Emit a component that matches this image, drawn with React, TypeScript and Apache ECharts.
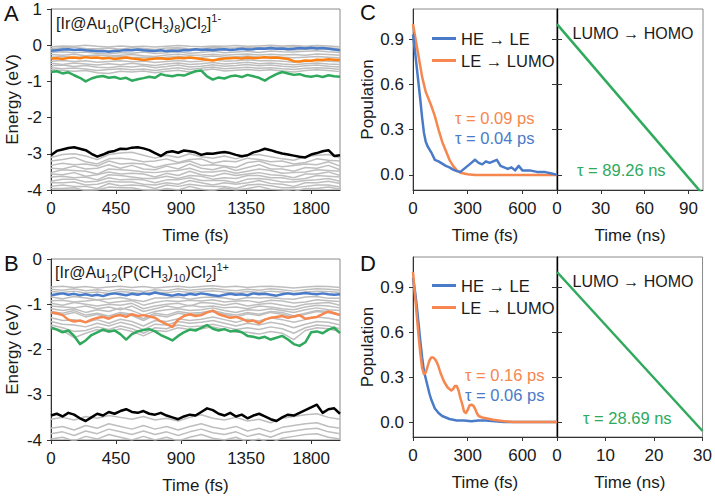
import React, { useEffect, useRef } from 'react';
import * as echarts from 'echarts';

const FONT = 'Liberation Sans';
const TXT = '#1a1a1a';
const BLUE = '#4A7BC8';
const ORANGE_A = '#FF8012';
const ORANGE = '#F5874F';
const GREEN = '#2FA95C';
const GRAY = '#BEBEBE';
const AX_FS = 17;

// ---- time grids (fs) ----
const tFine = [0,40,80,120,160,200,240,280,320,360,400,440,480,520,560,600,640,680,720,760,800,840,880,920,960,1000,1040,1080,1120,1160,1200,1240,1280,1320,1360,1400,1440,1480,1520,1560,1600,1640,1680,1720,1760,1800,1840,1880,1920,1960,2000];
const tCoarse = [0,80,160,240,320,400,480,560,640,720,800,880,960,1040,1120,1200,1280,1360,1440,1520,1600,1680,1760,1840,1920,2000];

// ---- Panel A (eV) ----
const aBlue = [-0.15,-0.14,-0.12,-0.11,-0.13,-0.12,-0.14,-0.15,-0.17,-0.16,-0.18,-0.16,-0.15,-0.13,-0.14,-0.12,-0.14,-0.15,-0.16,-0.14,-0.17,-0.15,-0.16,-0.13,-0.14,-0.11,-0.13,-0.12,-0.14,-0.12,-0.11,-0.13,-0.12,-0.10,-0.12,-0.11,-0.09,-0.10,-0.08,-0.10,-0.09,-0.11,-0.10,-0.08,-0.09,-0.07,-0.09,-0.08,-0.10,-0.12,-0.14];
const aOrange = [-0.37,-0.36,-0.38,-0.35,-0.34,-0.36,-0.33,-0.35,-0.34,-0.37,-0.35,-0.38,-0.36,-0.34,-0.37,-0.38,-0.41,-0.39,-0.37,-0.36,-0.38,-0.37,-0.35,-0.36,-0.34,-0.36,-0.38,-0.40,-0.42,-0.39,-0.37,-0.36,-0.35,-0.37,-0.34,-0.36,-0.35,-0.33,-0.35,-0.34,-0.36,-0.38,-0.44,-0.45,-0.42,-0.43,-0.40,-0.41,-0.39,-0.40,-0.41];
const aGreen = [-0.74,-0.72,-0.78,-0.75,-0.83,-0.90,-1.00,-0.92,-0.87,-0.85,-0.90,-0.88,-0.93,-0.90,-0.98,-0.94,-0.91,-0.87,-0.90,-0.80,-0.84,-0.86,-0.82,-0.84,-0.78,-0.72,-0.70,-0.86,-0.95,-0.89,-0.92,-0.86,-0.84,-0.88,-0.82,-0.86,-0.90,-0.98,-0.88,-0.80,-0.74,-0.78,-0.82,-0.80,-0.85,-0.87,-0.84,-0.88,-0.83,-0.86,-0.87];
const aBlack = [-3.04,-2.92,-2.88,-2.84,-2.82,-2.86,-2.90,-3.00,-3.08,-3.02,-2.95,-2.92,-2.86,-2.87,-2.83,-2.82,-2.85,-2.90,-2.98,-3.06,-2.96,-2.93,-2.97,-2.91,-2.93,-2.96,-3.03,-2.99,-3.00,-2.97,-2.95,-2.98,-3.03,-3.07,-3.04,-2.96,-2.92,-2.86,-2.90,-2.95,-2.99,-3.02,-3.05,-3.08,-3.10,-3.02,-2.98,-2.93,-2.90,-3.06,-3.04];
const aGray = [
  [-0.04,-0.02,-0.03,0.00,-0.03,-0.05,-0.02,-0.04,-0.03,-0.05,-0.03,-0.01,-0.03,-0.04,-0.02,-0.03,-0.01,-0.03,-0.02,0.00,-0.02,-0.01,-0.03,-0.01,-0.02,-0.04],
  [-0.09,-0.07,-0.06,-0.09,-0.10,-0.08,-0.11,-0.07,-0.09,-0.12,-0.08,-0.07,-0.10,-0.09,-0.06,-0.08,-0.07,-0.05,-0.07,-0.05,-0.06,-0.04,-0.06,-0.05,-0.07,-0.09],
  [-0.12,-0.11,-0.14,-0.12,-0.13,-0.15,-0.12,-0.14,-0.11,-0.15,-0.13,-0.10,-0.13,-0.12,-0.09,-0.12,-0.11,-0.09,-0.11,-0.10,-0.12,-0.13,-0.11,-0.09,-0.11,-0.13],
  [-0.20,-0.18,-0.21,-0.19,-0.23,-0.24,-0.20,-0.22,-0.19,-0.23,-0.21,-0.18,-0.22,-0.20,-0.17,-0.21,-0.19,-0.17,-0.20,-0.16,-0.18,-0.19,-0.17,-0.15,-0.18,-0.20],
  [-0.26,-0.28,-0.25,-0.29,-0.27,-0.30,-0.28,-0.26,-0.29,-0.31,-0.27,-0.25,-0.28,-0.27,-0.25,-0.28,-0.26,-0.24,-0.27,-0.25,-0.27,-0.26,-0.28,-0.24,-0.26,-0.28],
  [-0.33,-0.31,-0.34,-0.32,-0.35,-0.33,-0.31,-0.34,-0.33,-0.36,-0.33,-0.31,-0.34,-0.33,-0.30,-0.33,-0.32,-0.30,-0.33,-0.31,-0.33,-0.35,-0.33,-0.31,-0.33,-0.35],
  [-0.44,-0.42,-0.45,-0.43,-0.47,-0.45,-0.43,-0.46,-0.44,-0.48,-0.45,-0.42,-0.46,-0.44,-0.41,-0.44,-0.43,-0.40,-0.43,-0.42,-0.44,-0.47,-0.45,-0.42,-0.44,-0.46],
  [-0.50,-0.53,-0.49,-0.52,-0.55,-0.51,-0.54,-0.50,-0.53,-0.56,-0.52,-0.49,-0.53,-0.51,-0.48,-0.52,-0.50,-0.47,-0.51,-0.49,-0.52,-0.54,-0.51,-0.49,-0.52,-0.53],
  [-0.57,-0.55,-0.59,-0.56,-0.61,-0.62,-0.58,-0.60,-0.57,-0.62,-0.59,-0.55,-0.60,-0.58,-0.54,-0.58,-0.56,-0.53,-0.57,-0.55,-0.58,-0.60,-0.57,-0.55,-0.58,-0.60],
  [-0.62,-0.65,-0.63,-0.66,-0.70,-0.67,-0.65,-0.68,-0.66,-0.70,-0.66,-0.62,-0.67,-0.64,-0.60,-0.65,-0.63,-0.61,-0.64,-0.62,-0.65,-0.67,-0.64,-0.62,-0.64,-0.67],
  [-0.68,-0.70,-0.72,-0.70,-0.76,-0.78,-0.72,-0.74,-0.71,-0.76,-0.72,-0.69,-0.74,-0.70,-0.66,-0.71,-0.69,-0.67,-0.70,-0.68,-0.71,-0.74,-0.70,-0.68,-0.70,-0.73],
  [-3.10,-3.02,-3.00,-3.06,-3.16,-3.02,-2.98,-2.96,-3.04,-3.12,-3.04,-3.10,-3.00,-3.08,-3.12,-3.06,-3.14,-3.04,-3.02,-3.08,-3.14,-3.18,-3.08,-3.04,-3.02,-3.12],
  [-3.20,-3.16,-3.10,-3.22,-3.28,-3.14,-3.12,-3.16,-3.22,-3.20,-3.14,-3.24,-3.16,-3.14,-3.26,-3.20,-3.22,-3.12,-3.16,-3.22,-3.20,-3.28,-3.24,-3.14,-3.18,-3.20],
  [-3.32,-3.26,-3.30,-3.28,-3.34,-3.20,-3.28,-3.26,-3.28,-3.38,-3.30,-3.26,-3.20,-3.32,-3.30,-3.34,-3.38,-3.24,-3.20,-3.30,-3.36,-3.32,-3.28,-3.30,-3.22,-3.34],
  [-3.40,-3.42,-3.34,-3.42,-3.40,-3.30,-3.40,-3.32,-3.42,-3.44,-3.34,-3.42,-3.28,-3.40,-3.44,-3.36,-3.46,-3.38,-3.30,-3.42,-3.42,-3.48,-3.38,-3.40,-3.32,-3.44],
  [-3.52,-3.44,-3.46,-3.48,-3.56,-3.42,-3.44,-3.46,-3.50,-3.52,-3.48,-3.46,-3.40,-3.50,-3.50,-3.46,-3.54,-3.48,-3.42,-3.46,-3.54,-3.52,-3.50,-3.44,-3.46,-3.48],
  [-3.56,-3.58,-3.52,-3.62,-3.58,-3.50,-3.56,-3.54,-3.56,-3.64,-3.54,-3.60,-3.48,-3.58,-3.62,-3.54,-3.60,-3.56,-3.52,-3.58,-3.60,-3.66,-3.56,-3.56,-3.50,-3.60],
  [-3.64,-3.62,-3.66,-3.64,-3.72,-3.58,-3.60,-3.64,-3.68,-3.68,-3.62,-3.68,-3.60,-3.62,-3.70,-3.66,-3.68,-3.60,-3.60,-3.66,-3.66,-3.72,-3.68,-3.60,-3.62,-3.64],
  [-3.76,-3.70,-3.70,-3.78,-3.76,-3.66,-3.72,-3.70,-3.72,-3.80,-3.72,-3.72,-3.66,-3.74,-3.74,-3.74,-3.80,-3.70,-3.68,-3.72,-3.78,-3.78,-3.74,-3.72,-3.68,-3.76],
  [-3.80,-3.80,-3.78,-3.86,-3.84,-3.76,-3.78,-3.78,-3.84,-3.86,-3.80,-3.84,-3.74,-3.80,-3.86,-3.80,-3.84,-3.80,-3.74,-3.82,-3.84,-3.90,-3.80,-3.80,-3.76,-3.82],
  [-3.90,-3.86,-3.90,-3.90,-3.96,-3.82,-3.88,-3.86,-3.88,-3.96,-3.86,-3.90,-3.84,-3.88,-3.90,-3.90,-3.96,-3.86,-3.84,-3.88,-3.94,-3.94,-3.90,-3.86,-3.86,-3.92],
  [-3.96,-3.96,-3.94,-4.02,-4.00,-3.92,-3.94,-3.94,-4.00,-4.02,-3.96,-4.00,-3.90,-3.98,-4.02,-3.94,-4.00,-3.96,-3.90,-3.98,-4.00,-4.04,-3.96,-3.96,-3.92,-3.98],
];

// ---- Panel B (eV) ----
const bBlue = [-0.80,-0.78,-0.76,-0.79,-0.77,-0.80,-0.78,-0.81,-0.79,-0.82,-0.78,-0.76,-0.78,-0.80,-0.77,-0.79,-0.76,-0.78,-0.74,-0.77,-0.79,-0.81,-0.78,-0.80,-0.77,-0.79,-0.76,-0.78,-0.80,-0.82,-0.79,-0.77,-0.79,-0.78,-0.80,-0.76,-0.78,-0.77,-0.79,-0.81,-0.78,-0.76,-0.78,-0.77,-0.75,-0.77,-0.78,-0.76,-0.78,-0.79,-0.78];
const bOrange = [-1.18,-1.20,-1.24,-1.34,-1.38,-1.36,-1.40,-1.34,-1.30,-1.28,-1.32,-1.26,-1.24,-1.28,-1.22,-1.26,-1.24,-1.27,-1.30,-1.38,-1.44,-1.50,-1.34,-1.26,-1.22,-1.26,-1.24,-1.18,-1.14,-1.22,-1.26,-1.30,-1.28,-1.32,-1.38,-1.36,-1.42,-1.34,-1.30,-1.28,-1.26,-1.30,-1.27,-1.24,-1.32,-1.30,-1.28,-1.22,-1.16,-1.20,-1.24];
const bGreen = [-1.52,-1.56,-1.62,-1.58,-1.70,-1.88,-1.80,-1.68,-1.62,-1.56,-1.60,-1.58,-1.66,-1.78,-1.66,-1.60,-1.57,-1.55,-1.60,-1.68,-1.74,-1.80,-1.70,-1.62,-1.56,-1.58,-1.52,-1.46,-1.54,-1.58,-1.55,-1.60,-1.58,-1.62,-1.70,-1.72,-1.75,-1.72,-1.78,-1.74,-1.70,-1.78,-1.88,-1.92,-1.84,-1.62,-1.60,-1.64,-1.56,-1.52,-1.64];
const bBlack = [-3.46,-3.42,-3.48,-3.40,-3.44,-3.52,-3.58,-3.50,-3.42,-3.46,-3.38,-3.42,-3.36,-3.32,-3.38,-3.40,-3.36,-3.42,-3.44,-3.40,-3.46,-3.50,-3.54,-3.48,-3.44,-3.46,-3.38,-3.30,-3.34,-3.42,-3.46,-3.40,-3.48,-3.44,-3.52,-3.46,-3.42,-3.48,-3.54,-3.58,-3.50,-3.44,-3.46,-3.40,-3.34,-3.28,-3.22,-3.40,-3.32,-3.30,-3.42];
const bGray = [
  [-0.62,-0.60,-0.63,-0.61,-0.64,-0.62,-0.60,-0.63,-0.61,-0.64,-0.62,-0.60,-0.63,-0.61,-0.59,-0.62,-0.60,-0.63,-0.61,-0.60,-0.62,-0.64,-0.62,-0.60,-0.61,-0.63],
  [-0.67,-0.69,-0.66,-0.70,-0.68,-0.71,-0.67,-0.69,-0.72,-0.68,-0.70,-0.66,-0.69,-0.67,-0.65,-0.68,-0.70,-0.67,-0.69,-0.66,-0.68,-0.71,-0.68,-0.66,-0.67,-0.69],
  [-0.72,-0.74,-0.71,-0.75,-0.73,-0.76,-0.72,-0.74,-0.77,-0.73,-0.75,-0.71,-0.74,-0.72,-0.70,-0.73,-0.75,-0.72,-0.74,-0.71,-0.73,-0.76,-0.73,-0.71,-0.72,-0.74],
  [-0.84,-0.88,-0.83,-0.86,-0.90,-0.88,-0.85,-0.90,-0.94,-0.86,-0.86,-0.84,-0.89,-0.85,-0.84,-0.86,-0.90,-0.85,-0.86,-0.85,-0.88,-0.89,-0.84,-0.83,-0.87,-0.87],
  [-0.92,-0.91,-0.95,-0.93,-0.90,-0.97,-0.94,-0.92,-1.02,-0.96,-0.92,-0.94,-0.91,-0.93,-0.90,-0.95,-0.93,-0.92,-0.96,-0.91,-0.93,-0.97,-0.95,-0.90,-0.92,-0.94],
  [-0.98,-1.02,-0.96,-1.00,-1.04,-1.00,-1.02,-0.98,-1.10,-1.04,-1.00,-0.98,-1.04,-0.96,-0.98,-1.02,-0.98,-1.04,-1.00,-0.98,-1.02,-1.06,-1.00,-0.98,-0.96,-1.02],
  [-1.04,-1.06,-1.08,-1.04,-1.10,-1.06,-1.12,-1.04,-1.16,-1.10,-1.04,-1.08,-1.02,-1.06,-1.04,-1.08,-1.06,-1.10,-1.04,-1.06,-1.10,-1.12,-1.06,-1.02,-1.04,-1.08],
  [-1.10,-1.14,-1.10,-1.18,-1.12,-1.16,-1.08,-1.14,-1.24,-1.16,-1.12,-1.10,-1.14,-1.12,-1.08,-1.14,-1.18,-1.12,-1.14,-1.10,-1.14,-1.18,-1.12,-1.08,-1.12,-1.14],
  [-1.16,-1.20,-1.14,-1.24,-1.20,-1.26,-1.18,-1.22,-1.32,-1.20,-1.24,-1.16,-1.20,-1.18,-1.14,-1.20,-1.24,-1.18,-1.22,-1.16,-1.18,-1.26,-1.20,-1.14,-1.16,-1.22],
  [-1.20,-1.24,-1.18,-1.28,-1.22,-1.30,-1.21,-1.25,-1.36,-1.24,-1.28,-1.20,-1.24,-1.21,-1.16,-1.22,-1.28,-1.21,-1.25,-1.18,-1.22,-1.29,-1.22,-1.16,-1.19,-1.24],
  [-1.30,-1.36,-1.34,-1.40,-1.34,-1.42,-1.33,-1.38,-1.48,-1.36,-1.38,-1.32,-1.36,-1.33,-1.28,-1.34,-1.40,-1.33,-1.37,-1.30,-1.34,-1.40,-1.34,-1.28,-1.31,-1.36],
  [-1.38,-1.44,-1.46,-1.50,-1.42,-1.48,-1.40,-1.46,-1.56,-1.44,-1.46,-1.38,-1.42,-1.40,-1.36,-1.42,-1.48,-1.42,-1.46,-1.40,-1.44,-1.52,-1.44,-1.38,-1.40,-1.46],
  [-1.46,-1.52,-1.60,-1.58,-1.50,-1.56,-1.48,-1.54,-1.64,-1.52,-1.54,-1.46,-1.50,-1.48,-1.44,-1.50,-1.56,-1.52,-1.56,-1.50,-1.54,-1.64,-1.52,-1.46,-1.48,-1.54],
  [-1.50,-1.58,-1.74,-1.64,-1.56,-1.62,-1.54,-1.60,-1.70,-1.58,-1.60,-1.52,-1.56,-1.54,-1.50,-1.56,-1.62,-1.62,-1.66,-1.60,-1.64,-1.78,-1.58,-1.52,-1.54,-1.60],
  [-3.54,-3.50,-3.56,-3.48,-3.52,-3.46,-3.50,-3.54,-3.48,-3.56,-3.52,-3.58,-3.50,-3.44,-3.52,-3.56,-3.50,-3.58,-3.54,-3.62,-3.52,-3.48,-3.44,-3.42,-3.50,-3.54],
  [-3.74,-3.70,-3.78,-3.68,-3.74,-3.64,-3.70,-3.76,-3.68,-3.76,-3.70,-3.78,-3.70,-3.64,-3.72,-3.76,-3.70,-3.80,-3.74,-3.82,-3.72,-3.68,-3.64,-3.62,-3.70,-3.74],
  [-3.86,-3.82,-3.90,-3.80,-3.86,-3.76,-3.82,-3.88,-3.80,-3.88,-3.82,-3.90,-3.82,-3.76,-3.84,-3.88,-3.82,-3.92,-3.86,-3.94,-3.84,-3.80,-3.76,-3.74,-3.82,-3.86],
  [-3.98,-3.94,-4.02,-3.92,-3.98,-3.88,-3.94,-4.00,-3.92,-4.00,-3.94,-4.02,-3.94,-3.88,-3.96,-4.00,-3.94,-4.04,-3.98,-4.06,-3.96,-3.92,-3.88,-3.86,-3.94,-3.98],
];

// ---- Panel C (population) ----
const cBlueT = [0,10,20,30,40,50,60,70,80,90,100,120,140,160,180,200,220,240,260,280,300,320,340,360,380,400,420,440,460,480,500,520,540,560,580,600,640,680,720,760,790];
const cBlueV = [0.93,0.83,0.72,0.61,0.50,0.38,0.28,0.22,0.19,0.17,0.15,0.10,0.09,0.075,0.06,0.05,0.035,0.025,0.02,0.04,0.06,0.08,0.10,0.08,0.07,0.09,0.08,0.09,0.10,0.06,0.05,0.04,0.05,0.03,0.06,0.03,0.03,0.02,0.02,0.01,0.00];
const cOrangeT = [0,10,20,30,40,50,60,70,80,90,100,120,140,160,180,200,220,240,260,280,300,340,400,500,600,700,790];
const cOrangeV = [1.00,0.93,0.86,0.79,0.72,0.65,0.60,0.55,0.52,0.49,0.46,0.39,0.30,0.22,0.16,0.10,0.06,0.03,0.015,0.01,0.005,0.0,0.0,0.0,0.0,0.0,0.0];
const cGreenT = [0,100];
const cGreenV = [1.0,-0.13];

// ---- Panel D (population) ----
const dBlueT = [0,10,20,30,40,50,60,70,80,90,100,120,140,160,180,200,240,280,320,360,400,450,500,550,600,650,700,790];
const dBlueV = [0.96,0.88,0.78,0.66,0.54,0.43,0.34,0.29,0.24,0.19,0.15,0.09,0.06,0.04,0.03,0.02,0.01,0.01,0.005,0.01,0.01,0.005,0.0,0.0,0.0,0.0,0.0,0.0];
const dOrangeT = [0,10,20,30,40,50,60,70,80,90,100,110,120,130,140,150,160,170,180,190,200,210,220,230,240,250,260,270,280,290,300,310,320,330,340,350,360,380,400,420,440,470,500,550,600,700,790];
const dOrangeV = [1.0,0.86,0.72,0.58,0.46,0.36,0.32,0.33,0.37,0.41,0.43,0.43,0.42,0.40,0.37,0.33,0.30,0.27,0.25,0.23,0.22,0.21,0.22,0.24,0.24,0.21,0.16,0.12,0.07,0.06,0.08,0.11,0.115,0.11,0.09,0.06,0.04,0.03,0.025,0.02,0.015,0.01,0.005,0.0,0.0,0.0,0.0];
const dGreenT = [0,30];
const dGreenV = [1.0,-0.06];

// ---- tick labels ----
const xTicksFsLong = [0,450,900,1350,1800];
const yTicksA = [1,0,-1,-2,-3,-4];
const yTicksB = [0,-1,-2,-3,-4];
const xTicksFsShort = [0,300,600];
const xTicksNsC = [0,30,60,90];
const xTicksNsD = [0,10,20,30];
const yTicksPop = [0,0.3,0.6,0.9];

const zip = (t: number[], v: number[]) => v.map((y, i) => [t[i], y]);

const mk = (data: number[][], gi: number, color: string, width: number, name?: string) => ({
  type: 'line', name, xAxisIndex: gi, yAxisIndex: gi, data,
  showSymbol: false, symbol: 'none', silent: true, clip: true,
  lineStyle: { color, width, join: 'round' }, itemStyle: { color },
  emphasis: { disabled: true },
});

const nameStyle = { fontSize: AX_FS, color: TXT, fontFamily: FONT };
const plain = (v: number) => String(v);

const xAx = (gi: number, min: number, max: number, ticks: number[], name: string) => ({
  type: 'value', gridIndex: gi, min, max,
  axisLine: { show: true, onZero: false, lineStyle: { color: '#333', width: 1 } },
  axisTick: { show: true, length: 4, customValues: ticks, lineStyle: { color: '#333' } },
  axisLabel: { show: true, customValues: ticks, fontSize: AX_FS, color: TXT, fontFamily: FONT, margin: 10, formatter: plain },
  splitLine: { show: false },
  name, nameLocation: 'middle', nameGap: 37, nameTextStyle: nameStyle,
});

const yAx = (gi: number, min: number, max: number, ticks: number[], name: string, opt: any = {}) => ({
  type: 'value', gridIndex: gi, min, max,
  position: opt.position || 'left',
  axisLine: { show: true, onZero: false, lineStyle: { color: opt.lineColor || '#333', width: opt.lineWidth || 1 } },
  axisTick: { show: true, length: opt.tickLen || 4, customValues: ticks, lineStyle: { color: '#333' } },
  axisLabel: {
    show: opt.labels !== false, customValues: ticks, fontSize: AX_FS, color: TXT, fontFamily: FONT, margin: 9,
    formatter: opt.fmt || plain,
  },
  splitLine: { show: false },
  name, nameLocation: 'middle', nameGap: opt.nameGap || 30, nameTextStyle: nameStyle,
});

const rich = {
  n: { fontSize: 16, fontFamily: FONT, fontWeight: 'normal', color: TXT, lineHeight: 22, verticalAlign: 'middle' },
  s: { fontSize: 11, fontFamily: FONT, fontWeight: 'normal', color: TXT, lineHeight: 12, verticalAlign: 'bottom' },
  p: { fontSize: 11, fontFamily: FONT, fontWeight: 'normal', color: TXT, lineHeight: 12, verticalAlign: 'top' },
};
const formulaA = '{n|[Ir@Au}{s|10}{n|(P(CH}{s|3}{n|)}{s|8}{n|)Cl}{s|2}{n|]}{p|1-}';
const formulaB = '{n|[Ir@Au}{s|12}{n|(P(CH}{s|3}{n|)}{s|10}{n|)Cl}{s|2}{n|]}{p|1+}';

const txt = (text: string, x: number, y: number, color: string, size = 16.5, align = 'left') => ({
  type: 'text', x, y, silent: true,
  style: { text, fill: color, font: `${size}px ${FONT}`, textAlign: align, textVerticalAlign: 'middle' },
});

export default function App() {
  const ref = useRef<HTMLDivElement>(null);
  useEffect(() => {
    if (!ref.current) return;
    const chart = echarts.init(ref.current, undefined, { renderer: 'svg' });
    const fmt1 = (v: number) => v.toFixed(1);
    const gridBase = { show: true, borderColor: '#8a8a8a', borderWidth: 1, containLabel: false };
    const series: any[] = [];
    aGray.forEach((v) => series.push(mk(zip(tCoarse, v), 0, GRAY, 1.5)));
    series.push(mk(zip(tFine, aBlack), 0, '#000', 2.5));
    series.push(mk(zip(tFine, aGreen), 0, GREEN, 2.5));
    series.push(mk(zip(tFine, aOrange), 0, ORANGE_A, 2.5));
    series.push(mk(zip(tFine, aBlue), 0, BLUE, 2.5));
    bGray.forEach((v) => series.push(mk(zip(tCoarse, v), 1, GRAY, 1.5)));
    series.push(mk(zip(tFine, bBlack), 1, '#000', 2.5));
    series.push(mk(zip(tFine, bGreen), 1, GREEN, 2.5));
    series.push(mk(zip(tFine, bOrange), 1, ORANGE, 2.5));
    series.push(mk(zip(tFine, bBlue), 1, BLUE, 2.5));
    series.push(mk(zip(cOrangeT, cOrangeV), 2, ORANGE, 2.5, 'LE → LUMO'));
    series.push(mk(zip(cBlueT, cBlueV), 2, BLUE, 2.5, 'HE → LE'));
    series.push(mk(zip(cGreenT, cGreenV), 3, GREEN, 2.5));
    series.push(mk(zip(dBlueT, dBlueV), 4, BLUE, 2.5, 'HE → LE'));
    series.push(mk(zip(dOrangeT, dOrangeV), 4, ORANGE, 2.5, 'LE → LUMO'));
    series.push(mk(zip(dGreenT, dGreenV), 5, GREEN, 2.5));

    const legendBase = {
      data: ['HE → LE', 'LE → LUMO'], orient: 'vertical', left: 427,
      icon: 'rect', itemWidth: 24, itemHeight: 3, itemGap: 5, selectedMode: false,
      textStyle: { fontSize: 16.5, color: TXT, fontFamily: FONT },
    };

    chart.setOption({
      animation: false,
      textStyle: { fontFamily: FONT },
      grid: [
        { ...gridBase, left: 51, top: 9, width: 289, height: 181 },
        { ...gridBase, left: 51, top: 259, width: 289, height: 181 },
        { ...gridBase, left: 413, top: 9, width: 144, height: 181 },
        { ...gridBase, left: 557, top: 9, width: 146, height: 181 },
        { ...gridBase, left: 413, top: 257, width: 144, height: 180 },
        { ...gridBase, left: 557, top: 257, width: 146, height: 180 },
      ],
      xAxis: [
        xAx(0, 0, 2000, xTicksFsLong, 'Time (fs)'),
        xAx(1, 0, 2000, xTicksFsLong, 'Time (fs)'),
        xAx(2, 0, 790, xTicksFsShort, 'Time (fs)'),
        xAx(3, 0, 100, xTicksNsC, 'Time (ns)'),
        xAx(4, 0, 790, xTicksFsShort, 'Time (fs)'),
        xAx(5, 0, 30, xTicksNsD, 'Time (ns)'),
      ],
      yAxis: [
        yAx(0, -4, 1, yTicksA, 'Energy (eV)'),
        yAx(1, -4, 0, yTicksB, 'Energy (eV)'),
        yAx(2, -0.1, 1.1, yTicksPop, 'Population', { fmt: fmt1, nameGap: 37 }),
        yAx(3, -0.1, 1.1, yTicksPop, '', { labels: false, tickLen: 5, lineColor: '#000', lineWidth: 1.2 }),
        yAx(4, -0.1, 1.1, yTicksPop, 'Population', { fmt: fmt1, nameGap: 37 }),
        yAx(5, -0.1, 1.1, yTicksPop, '', { labels: false, tickLen: 5, lineColor: '#000', lineWidth: 1.2 }),
        yAx(2, -0.1, 1.1, yTicksPop, '', { labels: false, tickLen: 5, lineColor: '#000', lineWidth: 1.2, position: 'right' }),
        yAx(4, -0.1, 1.1, yTicksPop, '', { labels: false, tickLen: 5, lineColor: '#000', lineWidth: 1.2, position: 'right' }),
      ],
      legend: [
        { ...legendBase, top: 25 },
        { ...legendBase, top: 272 },
      ],
      title: [
        { text: formulaA, left: 56, top: 12, padding: 0, textStyle: { fontWeight: 'normal', rich } },
        { text: formulaB, left: 55, top: 261, padding: 0, textStyle: { fontWeight: 'normal', rich } },
      ],
      graphic: [
        txt('A', 4, 13, '#111', 22),
        txt('B', 4, 263, '#111', 22),
        txt('C', 360, 12, '#111', 22),
        txt('D', 360, 263, '#111', 22),
        txt('LUMO → HOMO', 633, 33, TXT, 16, 'center'),
        txt('LUMO → HOMO', 633, 281, TXT, 16, 'center'),
        txt('τ = 0.09 ps', 455, 118, ORANGE),
        txt('τ = 0.04 ps', 455, 138, BLUE),
        txt('τ = 89.26 ns', 577, 170, GREEN),
        txt('τ = 0.16 ps', 465, 375, ORANGE),
        txt('τ = 0.06 ps', 465, 395, BLUE),
        txt('τ = 28.69 ns', 583, 418, GREEN),
      ],
      series,
    });
    return () => chart.dispose();
  }, []);
  return <div ref={ref} style={{ position: 'fixed', left: 0, top: 0, width: 715, height: 499, background: '#fff' }} />;
}
